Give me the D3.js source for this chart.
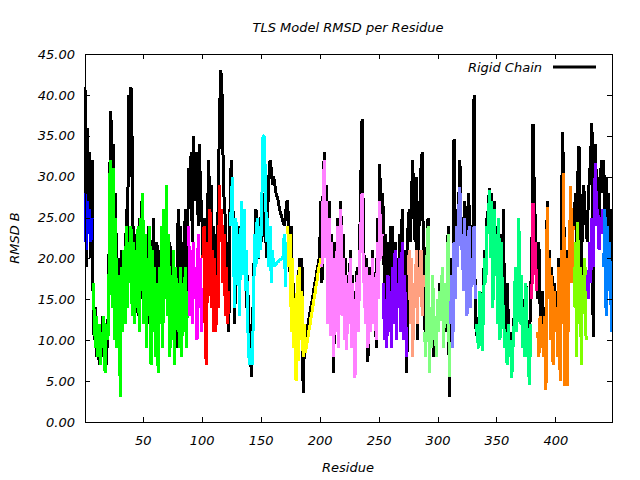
<script src='https://d3js.org/d3.v7.min.js'></script>

<body style="margin:0">
<svg height="480" width="640"></svg>

<script>
  // rigid chain RMSD, one value per residue starting at residue 1
  var rigid = [
    41, 19, 36, 24, 33, 20, 32, 12, 10, 14,
    8, 12, 7, 11, 9, 13, 8, 12, 7, 10,
    15, 30, 38, 22, 34, 14, 28, 12, 20, 18,
    13, 21, 15, 19, 12, 26, 18, 40, 30, 41,
    34, 20, 23, 16, 22, 13, 25, 18, 27, 15,
    23, 14, 21, 17, 24, 12, 22, 16, 25, 19,
    14, 22, 18, 21, 16, 23, 14, 20, 24, 17,
    21, 15, 22, 18, 16, 21, 12, 19, 9, 26,
    14, 24, 8, 22, 17, 26, 10, 23, 31, 26,
    33, 22, 35, 27, 30, 33, 24, 34, 28, 26,
    20, 25, 12, 18, 26, 32, 22, 29, 16, 24,
    18, 23, 15, 28, 36, 43, 42, 33, 27, 25,
    17, 22, 11, 26, 32, 28, 24, 12, 22, 18,
    24, 16, 20, 27, 19, 22, 20, 14, 18, 9,
    12, 5.5, 10, 18, 22, 26, 24, 20, 23, 25,
    22, 26, 28, 24, 20, 26, 30, 32, 31, 29,
    30, 29, 28, 27.5, 27, 26, 25.5, 25, 24.5, 24,
    25, 27, 27, 21, 18, 24, 13, 17, 10, 14,
    12, 17, 20, 15, 20, 3.5, 9, 10, 11, 11.8,
    12.7, 13.5, 14.4, 15.2, 16.1, 17, 17.8, 18.7, 19.5, 20.4,
    27, 17, 29, 33, 24, 29, 16, 27, 15, 23,
    18, 6, 22, 13, 25, 11, 24, 27, 15, 23,
    13, 20, 10, 18, 14, 21, 10, 18, 12, 8,
    17, 19, 13, 22, 30, 37, 25, 18, 13, 20,
    7.4, 19, 11, 16, 21, 12, 18, 9, 25, 18,
    31.6, 24, 28, 26, 15, 23, 12, 22, 14, 24,
    18, 24, 14, 22, 13, 20, 16, 23, 15, 26,
    12, 21, 14, 6, 24, 26, 22, 28, 32, 25,
    22, 30, 10, 27, 24, 31, 33, 21, 12, 10,
    21, 25, 7, 14, 9, 16, 8, 12, 9, 14,
    12, 17, 13, 18, 10, 15, 16, 11, 24, 3,
    14, 20, 11, 34.6, 18, 26, 22, 27, 32, 24,
    25, 20, 27, 20, 15, 28, 26, 18, 23, 22,
    40, 12, 11, 10, 12, 16, 14, 11, 17, 21,
    19, 25, 26, 28.6, 22, 28, 17, 27, 19, 24,
    15, 25, 13, 23, 18, 26, 10, 12, 17, 13,
    9, 11, 8, 10, 13, 18, 12, 16, 24, 13,
    17, 10, 15, 10, 17, 12, 8, 9, 16, 20,
    36.4, 28.8, 24, 18, 15, 22, 14, 12, 16, 10,
    14, 8, 27, 17, 21, 12, 19, 10, 17, 13,
    16, 10, 20, 9, 22, 35.4, 30, 9, 21, 10,
    15, 23, 26, 20, 24, 25, 28, 20, 30, 33.7,
    27, 18, 25, 29, 26, 24, 22, 28, 30, 33,
    36.6, 10.4, 31, 34, 27, 30, 25, 29, 32, 28,
    32, 24, 30, 22, 28, 20, 26, 12
  ];

  // TLS model RMSD, same residues, split into groups below
  var tls = [
    28, 21, 27, 23, 26, 22, 25, 17, 12, 9,
    13, 8, 12, 7, 11, 9, 13, 6, 12, 10,
    11, 30, 32, 14, 31, 10, 25, 9, 18, 12,
    3, 19, 11, 21, 12, 24, 14, 22, 17, 24,
    13, 22, 12, 21, 14, 24, 11, 25, 16, 28,
    12, 23, 9, 20, 13, 24, 7, 21, 11, 19,
    8, 17, 6, 19, 12, 24, 9, 26, 15, 29,
    13, 23, 8, 18, 10, 21, 7, 19, 12, 17,
    9, 19, 8, 17, 11, 19, 9, 16, 24, 13,
    21, 12, 22, 15, 19, 10, 23, 14, 20, 11,
    20, 24, 9, 7, 22, 18, 26, 14, 21, 11,
    20, 11, 18, 14, 29, 22, 26, 17, 23, 13,
    19, 12, 16, 24, 26, 30, 20, 14, 25, 18,
    23, 13, 22, 27, 18, 26, 16, 21, 12, 8,
    7, 9, 7, 15, 23, 19, 25, 20, 24, 21,
    27, 35, 35, 30, 22, 25, 19, 24, 17, 21,
    19, 19.2, 19.3, 19.5, 19.6, 19.8, 19.9, 20, 20.2, 23,
    16.5, 22, 24, 19, 23, 11, 20, 9, 14, 5,
    18, 7.5, 19, 10, 16, 8, 12, 8.5, 9.5, 10.2,
    11.3, 12, 13.1, 13.8, 14.9, 15.6, 16.7, 17.4, 18.6, 19.2,
    20, 19, 28, 32, 20, 27, 12, 25, 10.5, 22,
    14, 8, 20, 11, 24, 9, 22, 26, 13, 20,
    10, 18, 8.8, 17, 12, 20, 9, 17, 11, 5.4,
    15, 18, 11, 20, 24, 28, 19, 16, 12, 19,
    9, 18, 11, 15, 20, 12, 17, 10, 22, 15,
    27, 20, 23, 17, 10, 15, 9, 18, 11, 16,
    9, 19, 12, 21, 10, 17, 14, 20, 11, 22,
    10, 18, 13, 8, 18, 21, 12, 20, 8, 17,
    14, 21, 12, 19, 16, 21, 13, 18, 11, 8,
    20, 24, 6, 14, 9, 18, 10, 13, 8, 15,
    11, 16, 13, 19, 9, 14, 17, 12, 23, 5.5,
    12, 18, 9, 22, 15, 24, 19, 26, 28.7, 21,
    23, 16, 25, 18, 13, 22, 24, 14, 20, 17,
    24, 15, 12, 10, 9, 16, 11, 8.7, 14, 20,
    17, 24, 23, 28.4, 20, 27, 14, 26, 18, 23,
    12, 25, 10, 22, 16, 13, 9, 11, 7, 12,
    8, 10, 5.4, 9, 12, 19, 11, 16, 25, 12,
    18, 9, 14, 8, 17, 11, 7, 4.5, 12, 15,
    26.8, 18, 22, 16, 11, 8, 13, 9, 12, 8,
    13, 3.9, 26.3, 15, 20, 10, 18, 7, 16, 11,
    14, 8, 19, 5, 21, 12, 30.5, 4.4, 20, 4.4,
    14, 22, 28.8, 17, 24, 14, 22, 8, 24.5, 12,
    19, 7, 18, 14, 20, 10, 18, 15, 22, 17,
    25, 19, 27, 31.7, 24, 26, 21, 25, 23, 26,
    19, 26, 13, 24, 16, 22, 15, 11
  ];

  var groupStarts = [1, 8, 89, 101, 124, 173, 202, 254, 275, 289, 311, 333, 380, 385, 416, 427, 441];
  var groupColors = ['#0000ff', '#00ff00', '#ff00ff', '#ff0000', '#00ffff', '#ffff00', '#ff80ff', '#8000ff',
                     '#ffa080', '#80ff80', '#8080ff', '#00ff80', '#ff0080', '#ff8000', '#80ff00', '#8000ff', '#0080ff'];
  var xTicks = [50, 100, 150, 200, 250, 300, 350, 400];
  var yTicks = [0, 5, 10, 15, 20, 25, 30, 35, 40, 45];

  var font = "'DejaVu Sans', sans-serif";
  var plotLeft = 85, plotRight = 612, plotTop = 54, plotBottom = 422;

  var svg = d3.select('svg');
  var x = d3.scaleLinear().domain([1, rigid.length]).range([plotLeft, plotRight]);
  var y = d3.scaleLinear().domain([0, 45]).range([plotBottom, plotTop]);

  var line = d3.line()
      .x(function(d) { return x(d.r); })
      .y(function(d) { return y(d.v); });

  function points(arr, from, to) {
    var out = [];
    for (var r = from; r <= to; r++) out.push({ r: r, v: arr[r - 1] });
    return out;
  }

  var plot = svg.append('g').attr('shape-rendering', 'crispEdges');

  plot.append('path')
      .attr('d', line(points(rigid, 1, rigid.length)))
      .attr('fill', 'none')
      .attr('stroke', 'black')
      .attr('stroke-width', 3)
      .attr('stroke-linejoin', 'bevel');

  groupStarts.forEach(function(s, i) {
    var e = i < groupStarts.length - 1 ? groupStarts[i + 1] - 1 : tls.length;
    plot.append('path')
        .attr('d', line(points(tls, s, e)))
        .attr('fill', 'none')
        .attr('stroke', groupColors[i])
        .attr('stroke-width', 3)
        .attr('stroke-linejoin', 'bevel');
  });

  // axes, ticks pointing inward on all four sides
  function styleAxis(g) {
    g.select('.domain').remove();
    g.selectAll('line').attr('stroke', 'black').attr('shape-rendering', 'crispEdges');
    g.selectAll('text')
        .attr('font-family', font)
        .attr('font-style', 'italic')
        .attr('font-size', 13)
        .attr('fill', 'black');
  }

  svg.append('g')
      .attr('transform', 'translate(0,' + plotBottom + ')')
      .call(d3.axisBottom(x).tickValues(xTicks).tickSizeInner(-5).tickSizeOuter(0).tickPadding(14))
      .call(styleAxis);

  svg.append('g')
      .attr('transform', 'translate(0,' + plotTop + ')')
      .call(d3.axisTop(x).tickValues(xTicks).tickSizeInner(-5).tickSizeOuter(0).tickFormat(''))
      .call(styleAxis);

  svg.append('g')
      .attr('transform', 'translate(' + plotLeft + ',0)')
      .call(d3.axisLeft(y).tickValues(yTicks).tickSizeInner(-5).tickSizeOuter(0).tickPadding(10).tickFormat(d3.format('.2f')))
      .call(styleAxis);

  svg.append('g')
      .attr('transform', 'translate(' + plotRight + ',0)')
      .call(d3.axisRight(y).tickValues(yTicks).tickSizeInner(-5).tickSizeOuter(0).tickFormat(''))
      .call(styleAxis);

  svg.append('rect')
      .attr('x', plotLeft + 0.5)
      .attr('y', plotTop + 0.5)
      .attr('width', plotRight - plotLeft)
      .attr('height', plotBottom - plotTop)
      .attr('fill', 'none')
      .attr('stroke', 'black')
      .attr('shape-rendering', 'crispEdges');

  function label(txt, tx, ty, rot) {
    svg.append('text')
        .attr('transform', 'translate(' + tx + ',' + ty + ')' + (rot ? ' rotate(-90)' : ''))
        .attr('text-anchor', 'middle')
        .attr('font-family', font)
        .attr('font-style', 'italic')
        .attr('font-size', 13)
        .text(txt);
  }

  label('TLS Model RMSD per Residue', 348, 32);
  label('Residue', 348, 472);
  label('RMSD B', 19, 238, true);

  // legend
  svg.append('text')
      .attr('x', 542)
      .attr('y', 72)
      .attr('text-anchor', 'end')
      .attr('font-family', font)
      .attr('font-style', 'italic')
      .attr('font-size', 13)
      .text('Rigid Chain');

  svg.append('line')
      .attr('x1', 553)
      .attr('x2', 596)
      .attr('y1', 67)
      .attr('y2', 67)
      .attr('stroke', 'black')
      .attr('stroke-width', 3);
</script>
</body>
